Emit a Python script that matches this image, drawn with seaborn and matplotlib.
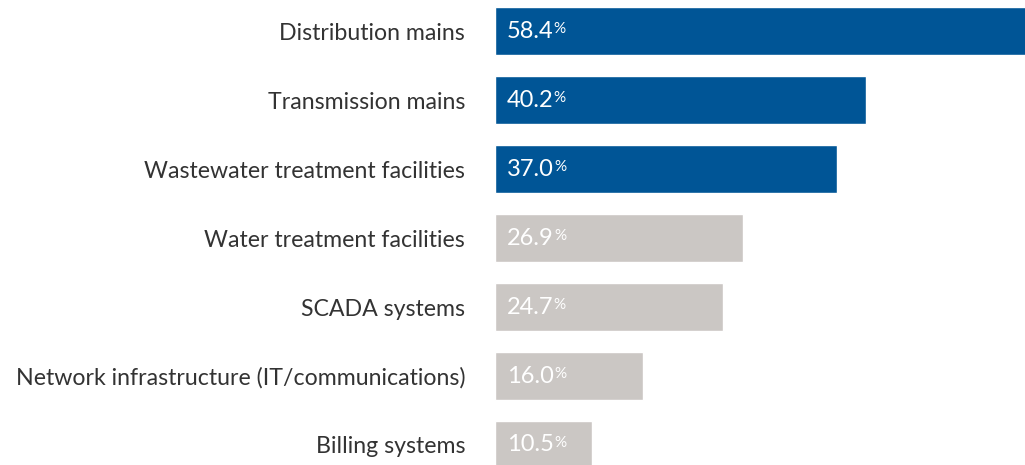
import matplotlib
matplotlib.use('Agg')
import seaborn as sns
import matplotlib.pyplot as plt

categories = ['Distribution mains', 'Transmission mains', 'Wastewater treatment facilities',
              'Water treatment facilities', 'SCADA systems',
              'Network infrastructure (IT/communications)', 'Billing systems']
values = [58.4, 40.2, 37.0, 26.9, 24.7, 16.0, 10.5]
highlight = [True, True, True, False, False, False, False]

blue = '#005596'
grey = '#cbc7c4'
colors = [blue if h else grey for h in highlight]

sns.set_style('white')
plt.rcParams['font.family'] = ['Lato', 'DejaVu Sans']

fig = plt.figure(figsize=(10.25, 4.65), dpi=100)
ax = fig.add_axes([495 / 1025, 0, 1 - 495 / 1025, 1])

sns.barplot(x=values, y=categories, hue=categories, palette=colors, legend=False,
            orient='h', width=0.7, saturation=1, ax=ax)

ax.set_xlim(0, 57.4)
ax.set_ylim(6.29, -0.451)
ax.set_xticks([])
ax.set_xlabel('')
ax.set_ylabel('')
sns.despine(ax=ax, left=True, bottom=True)
ax.tick_params(axis='y', length=0, pad=21.5, labelsize=16.7, labelcolor='#333333')

# value labels with a small percent sign
for i, v in enumerate(values):
    txt = ax.annotate(f'{v:.1f}', xy=(0, i), xytext=(8.5, 0), textcoords='offset points',
                      ha='left', va='center', color='white', fontsize=17)
    ax.annotate('%', xy=(1, 0.6), xycoords=txt, xytext=(0.3, 0), textcoords='offset points',
                ha='left', va='center', color='white', fontsize=11)

fig.savefig('out.png', dpi=100)
